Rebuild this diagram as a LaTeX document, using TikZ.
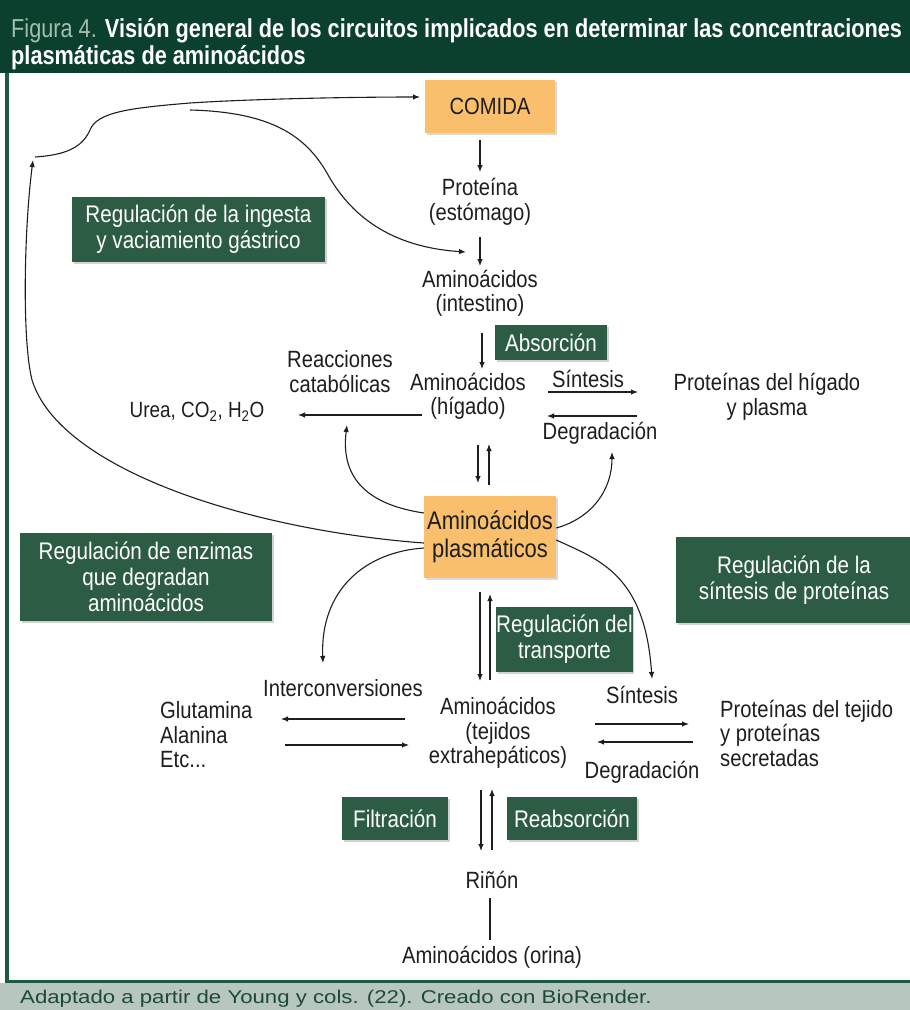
\documentclass[tikz,border=0pt]{standalone}
\usepackage{fontspec}
\setmainfont{Liberation Sans}[FakeStretch=0.86]
\newfontfamily\hdrfont{Liberation Sans}[FakeStretch=0.835]
\newfontfamily\srcfont{Liberation Sans}[FakeStretch=1.2]
\usetikzlibrary{arrows.meta,shadows}
\definecolor{hdr}{HTML}{0B402F}
\definecolor{frame}{HTML}{1E5A40}
\definecolor{boxg}{HTML}{2C5C44}
\definecolor{orng}{HTML}{F9BF6C}
\definecolor{foot}{HTML}{B8C7BE}
\definecolor{foottxt}{HTML}{1D4A36}
\definecolor{figlbl}{HTML}{A3BFAC}
\definecolor{ink}{HTML}{1E1E1E}
\newcommand{\dtext}{\fontsize{23.5}{24.5}\selectfont}
\newcommand{\btext}{\fontsize{24}{26}\selectfont}
\tikzset{
  lbl/.style={inner sep=0pt, align=center, font=\dtext, text=ink},
  lbll/.style={inner sep=0pt, align=left, font=\dtext, text=ink},
  regbox/.style={fill=boxg, text=white, align=center, font=\btext, inner sep=0pt,
    drop shadow={opacity=0.35, shadow xshift=1.5pt, shadow yshift=-1.5pt}},
  foodbox/.style={fill=orng, text=ink, align=center, inner sep=0pt,
    drop shadow={opacity=0.3, shadow xshift=1.5pt, shadow yshift=-1.5pt}},
  flow/.style={draw=ink, line width=1.1pt, -{Latex[length=7pt,width=5.5pt]}},
  curvearrow/.style={draw=ink, line width=1.1pt, -{Latex[length=7pt,width=5.5pt]}},
}
\begin{document}
\begin{tikzpicture}[x=1pt,y=-1pt]
\useasboundingbox (0,0) rectangle (910,1010);
% header band and frame
\fill[hdr] (0,0) rectangle (910,73);
\fill[frame] (5,73) rectangle (8.5,983);
\fill[frame] (5,979.5) rectangle (910,983);
\fill[foot] (0,983) rectangle (910,1010);
\node[anchor=base west, inner sep=0pt, text=white, font=\hdrfont\fontsize{26}{30}\selectfont] (title1) at (11,37)
  {{\color{figlbl}Figura 4.} \textbf{Visión general de los circuitos implicados en determinar las concentraciones}};
\node[anchor=base west, inner sep=0pt, text=white, font=\hdrfont\fontsize{26}{30}\selectfont] (title2) at (11,64)
  {\textbf{plasmáticas de aminoácidos}};
\node[anchor=base west, inner sep=0pt, text=foottxt, font=\srcfont\fontsize{18.5}{22}\selectfont] (source) at (20,1003)
  {Adaptado a partir de Young y cols. (22). Creado con BioRender.};

% food and absorption chain
\node[foodbox, minimum width=130pt, minimum height=53pt, font=\fontsize{23.5}{26}\selectfont] (comida) at (490,106.5) {COMIDA};
\node[lbl] (prot) at (480,202) {Proteína\\(estómago)};
\node[lbl] (intest) at (480,293.5) {Aminoácidos\\(intestino)};
\node[regbox, minimum width=112pt, minimum height=35pt] (absor) at (551,342.5) {Absorción};
\node[lbl] (reac) at (340,371.5) {Reacciones\\catabólicas};
\node[lbl] (higado) at (468,396.5) {Aminoácidos\\(hígado)};
\node[lbl, font=\fontsize{22}{24}\selectfont] (urea) at (197,412) {Urea, CO\textsubscript{2}, H\textsubscript{2}O};
\node[lbl] (sint1) at (588,379) {Síntesis};
\node[lbl] (degr1) at (600,433) {Degradación};
\node[lbl] (proth) at (767,397) {Proteínas del hígado\\y plasma};

% plasma pool
\node[foodbox, minimum width=132pt, minimum height=82pt, font=\fontsize{25.5}{28}\selectfont] (plasm) at (490,537) {Aminoácidos\\plasmáticos};

% regulation boxes
\node[regbox, minimum width=253pt, minimum height=65pt] (ingesta) at (198.5,229.5) {Regulación de la ingesta\\y vaciamiento gástrico};
\node[regbox, minimum width=252pt, minimum height=88pt] (enzimas) at (146,577) {Regulación de enzimas\\que degradan\\aminoácidos};
\node[regbox, minimum width=236pt, minimum height=86pt] (sintprot) at (794,580) {Regulación de la\\síntesis de proteínas};
\node[regbox, minimum width=135pt, minimum height=65pt] (transp) at (564.5,639.5) {Regulación del\\transporte};

% extrahepatic tissues
\node[lbl] (interc) at (343,688) {Interconversiones};
\node[lbl] (tejidos) at (498,733) {Aminoácidos\\(tejidos\\extrahepáticos)};
\node[lbll, anchor=west] (glut) at (160,735) {Glutamina\\Alanina\\Etc...};
\node[lbl] (sint2) at (642,695) {Síntesis};
\node[lbl] (degr2) at (642,772) {Degradación};
\node[lbll, anchor=west] (prott) at (720,733) {Proteínas del tejido\\y proteínas\\secretadas};

% kidney
\node[regbox, minimum width=106pt, minimum height=43pt] (filt) at (395,818.5) {Filtración};
\node[regbox, minimum width=130pt, minimum height=43pt] (reabs) at (572,818.5) {Reabsorción};
\node[lbl] (rinon) at (492,880) {Riñón};
\node[lbl] (orina) at (492,957) {Aminoácidos (orina)};

% connector end points
\coordinate (c1a) at (480,140);  \coordinate (c1b) at (480,172);
\coordinate (c2a) at (480,237);  \coordinate (c2b) at (480,266);
\coordinate (c3a) at (482,333);  \coordinate (c3b) at (482,369);
\coordinate (u1a) at (422,415);  \coordinate (u1b) at (298,415);
\coordinate (s1a) at (548,392);  \coordinate (s1b) at (638,392);
\coordinate (d1a) at (637,416);  \coordinate (d1b) at (547,416);
\coordinate (h1a) at (478,445);  \coordinate (h1b) at (478,483);
\coordinate (h2a) at (489,485);  \coordinate (h2b) at (489,444);
\coordinate (p1a) at (480,592);  \coordinate (p1b) at (480,681);
\coordinate (p2a) at (490,680);  \coordinate (p2b) at (490,594);
\coordinate (g1a) at (405,719);  \coordinate (g1b) at (281,719);
\coordinate (g2a) at (285,745);  \coordinate (g2b) at (409,745);
\coordinate (t1a) at (595,724);  \coordinate (t1b) at (689,724);
\coordinate (t2a) at (693,742);  \coordinate (t2b) at (597,742);
\coordinate (k1a) at (481,790);  \coordinate (k1b) at (481,851);
\coordinate (k2a) at (492,850);  \coordinate (k2b) at (492,789);
\coordinate (r1a) at (490,898);  \coordinate (r1b) at (490,940);
\coordinate (fb1) at (35,157);   \coordinate (fb2) at (190,110);
\coordinate (fbend) at (420,97); \coordinate (gastro) at (466,252);
\coordinate (loop) at (33,160);

% straight flows
\draw[flow] (c1a) -- (c1b);
\draw[flow] (c2a) -- (c2b);
\draw[flow] (c3a) -- (c3b);
\draw[flow] (u1a) -- (u1b);
\draw[flow] (s1a) -- (s1b);
\draw[flow] (d1a) -- (d1b);
\draw[flow] (h1a) -- (h1b);
\draw[flow] (h2a) -- (h2b);
\draw[flow] (p1a) -- (p1b);
\draw[flow] (p2a) -- (p2b);
\draw[flow] (g1a) -- (g1b);
\draw[flow] (g2a) -- (g2b);
\draw[flow] (t1a) -- (t1b);
\draw[flow] (t2a) -- (t2b);
\draw[flow] (k1a) -- (k1b);
\draw[flow] (k2a) -- (k2b);
\draw[draw=ink, line width=2pt] (r1a) -- (r1b);

% feedback loops
\draw[curvearrow] (fb1) .. controls (65,155) and (82,148) .. (90,130)
  .. controls (97,112) and (130,108) .. (190,103)
  .. controls (250,99) and (350,97) .. (fbend);
\draw[curvearrow] (fb2) .. controls (270,112) and (305,135) .. (327,173)
  .. controls (350,215) and (390,247) .. (gastro);
\draw[curvearrow] ([yshift=-6pt]plasm.west) .. controls (250,530) and (60,470) .. (32,380)
  .. controls (22,340) and (24,230) .. (loop);
\draw[curvearrow] ([yshift=24pt]plasm.west) .. controls (370,505) and (340,480) .. (347,425);
\draw[curvearrow] ([yshift=9pt]plasm.east) .. controls (592,518) and (612,490) .. (612,452);
\draw[curvearrow] ([yshift=-11pt]plasm.west) .. controls (365,552) and (320,590) .. (323,663);
\draw[curvearrow] ([yshift=-3pt]plasm.east) .. controls (600,560) and (645,575) .. (652,679);
\end{tikzpicture}
\end{document}
